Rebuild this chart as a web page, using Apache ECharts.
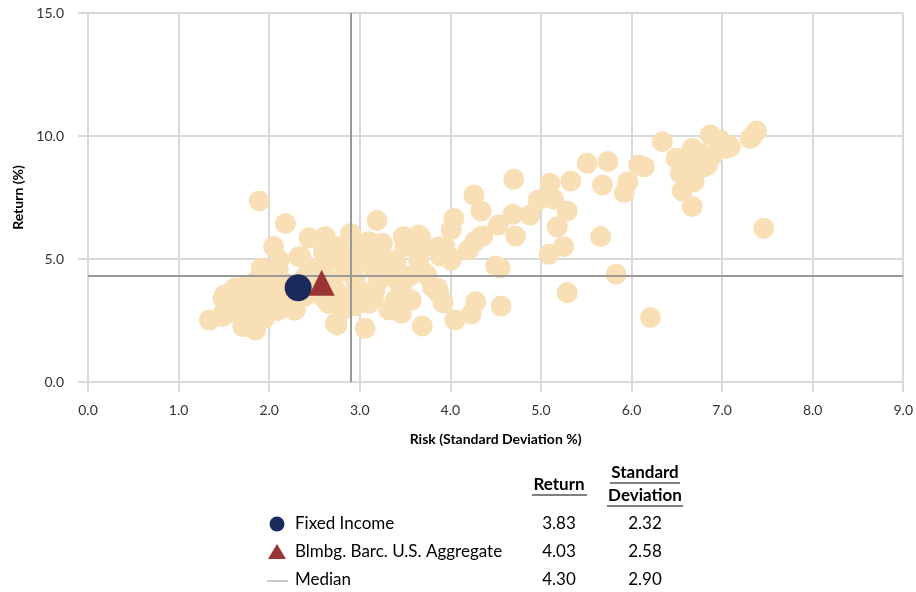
<!DOCTYPE html>
<html><head><meta charset="utf-8">
<script src="https://cdn.jsdelivr.net/npm/echarts@6/dist/echarts.min.js"></script>
<style>html,body{margin:0;padding:0;background:#fff}#c{width:916px;height:592px}</style>
</head><body><div id="c"></div>
<script>
// Peer universe: [risk (std dev %), return %]
const peers = [
 [1.89,7.36],[2.18,6.44],[2.05,5.51],[3.19,6.57],
 [4.70,8.24],[4.26,7.60],[4.34,6.95],[4.04,6.65],[4.01,6.20],[3.50,5.86],[3.67,5.90],[4.53,6.38],[4.69,6.82],[4.88,6.79],[4.97,7.40],[5.10,8.08],[5.14,7.43],[5.33,8.17],[5.51,8.89],[5.74,8.96],[5.68,8.01],[5.92,7.70],[5.96,8.14],[6.14,8.75],[6.08,8.82],[5.29,6.95],[5.18,6.31],[4.72,5.93],[5.66,5.91],[5.25,5.50],[5.09,5.19],[4.50,4.72],[4.55,4.63],[5.83,4.38],[5.29,3.63],[4.56,3.09],[4.28,3.26],[4.23,2.76],[4.05,2.52],[3.69,2.28],[3.92,3.22],[3.86,3.81],[3.74,4.35],[3.65,4.96],[3.89,5.12],[4.00,5.07],[3.94,5.50],[4.20,5.37],[4.36,5.93],[4.27,5.70],[3.57,3.33],[3.46,2.79],[3.46,3.87],[6.21,2.62],
 [6.34,9.77],[7.38,10.20],[7.31,9.90],[6.51,9.09],[6.67,9.43],[6.87,10.04],[6.98,9.70],[7.09,9.57],[6.62,8.69],[6.84,8.82],[6.54,8.48],[6.69,8.14],[6.56,7.77],[6.67,7.13],[7.46,6.25],[6.67,9.49],[6.49,9.09],[7.05,9.49],[6.98,9.84],[7.33,9.97],[6.73,9.16],[6.80,8.75],[6.60,9.00],[6.75,9.30],[6.90,9.20],[6.65,8.90],
 [2.44,5.86],[2.62,5.91],[2.33,5.09],[2.90,6.04],[3.10,5.70],[3.25,5.64],[3.48,5.91],[3.50,5.50],[3.87,5.50],[3.72,4.42],[3.34,4.96],[3.36,4.55],[3.43,4.01],[3.50,3.47],[3.32,2.93],[3.15,3.40],[3.06,2.18],[2.75,2.32],[2.81,2.93],[3.21,4.15],[2.99,3.74],[3.87,3.61],[3.65,5.98],[3.72,5.50],[4.34,5.91],[4.01,4.96],[3.80,3.87],[2.73,2.38],[2.70,4.96],[3.06,4.96],[3.25,5.09],[2.77,5.50],[3.06,5.50],[2.59,4.42],[3.25,4.28],[2.95,4.15],[2.55,3.74],[2.73,3.74],[2.88,3.47],[3.17,3.74],[3.39,3.33],[2.18,3.33],[2.27,2.93],[2.11,4.96],[1.91,4.62],[2.35,5.09],[2.80,5.20],[2.95,4.80],[3.15,4.60],[2.60,5.30],[2.50,4.60],[2.85,4.50],[3.00,5.30],[2.45,4.10],[2.40,3.50],[2.65,3.20],[2.95,3.10],[3.10,3.20],[2.70,4.10],[3.40,4.80],[3.55,4.30],
 [1.34,2.52],[1.51,3.54],[1.62,3.81],[1.49,2.79],[1.71,2.25],[1.84,2.25],[1.89,2.79],[1.49,3.40],[1.60,3.74],[1.74,3.94],[1.85,4.08],[2.04,4.28],[1.49,2.66],[1.85,2.11],[2.29,2.93],[2.15,3.20],[2.00,3.20],[2.59,3.47],[1.74,3.74],[1.82,2.52],[1.55,3.10],[1.65,2.90],[1.75,3.20],[1.80,3.50],[1.95,3.60],[2.05,3.80],[2.10,2.90],[1.95,2.60],[1.70,2.60],[2.20,4.00],[2.25,3.60],[2.00,4.50],[2.40,4.30],[1.60,3.30],[1.90,3.00],[2.10,4.60]
];
// Highlighted series and table
const tableNames = ["Fixed Income", "Blmbg. Barc. U.S. Aggregate", "Median"];
const tableReturn = [3.83, 4.03, 4.30];
const tableStdDev = [2.32, 2.58, 2.90];
const xTicks = [0,1,2,3,4,5,6,7,8,9];
const yTicks = [0,5,10,15];

const FONT = 'Lato';
const chart = echarts.init(document.getElementById('c'));
const rowY = [524, 552, 580];
const graphics = [
  {type:'text', style:{text:'Return', x:559, y:485, align:'center', verticalAlign:'middle', font:'bold 17px '+FONT, fill:'#000'}},
  {type:'line', shape:{x1:532, y1:495, x2:587, y2:495}, style:{stroke:'#000', lineWidth:1.2}},
  {type:'text', style:{text:'Standard', x:645, y:473, align:'center', verticalAlign:'middle', font:'bold 17px '+FONT, fill:'#000'}},
  {type:'line', shape:{x1:610, y1:483, x2:680, y2:483}, style:{stroke:'#000', lineWidth:1.2}},
  {type:'text', style:{text:'Deviation', x:645, y:496, align:'center', verticalAlign:'middle', font:'bold 17px '+FONT, fill:'#000'}},
  {type:'line', shape:{x1:607, y1:506, x2:683, y2:506}, style:{stroke:'#000', lineWidth:1.2}},
  {type:'circle', shape:{cx:277, cy:rowY[0], r:7.5}, style:{fill:'#1B2A5C'}},
  {type:'polygon', shape:{points:[[277,rowY[1]-8],[268,rowY[1]+7],[286,rowY[1]+7]]}, style:{fill:'#9B3535'}},
  {type:'line', shape:{x1:267, y1:rowY[2]+1, x2:288, y2:rowY[2]+1}, style:{stroke:'#999', lineWidth:1}}
];
tableNames.forEach((n,i)=>{
  graphics.push({type:'text', style:{text:n, x:295, y:rowY[i], verticalAlign:'middle', font:'17px '+FONT, fill:'#000'}});
  graphics.push({type:'text', style:{text:tableReturn[i].toFixed(2), x:559, y:rowY[i], align:'center', verticalAlign:'middle', font:'17px '+FONT, fill:'#000'}});
  graphics.push({type:'text', style:{text:tableStdDev[i].toFixed(2), x:645, y:rowY[i], align:'center', verticalAlign:'middle', font:'17px '+FONT, fill:'#000'}});
});

chart.setOption({
  animation:false,
  backgroundColor:'#fff',
  grid:{left:88, right:9, top:13, bottom:210, containLabel:false},
  xAxis:{type:'value', min:xTicks[0], max:xTicks[xTicks.length-1], interval:1,
    name:'Risk (Standard Deviation %)', nameLocation:'middle', nameGap:50,
    nameTextStyle:{fontFamily:FONT, fontWeight:'bold', fontSize:14, color:'#000'},
    axisLine:{show:true, lineStyle:{color:'#d9d9d9', width:2}},
    axisTick:{show:true, length:10, lineStyle:{color:'#d9d9d9', width:2}},
    axisLabel:{fontFamily:FONT, fontSize:14, color:'#333', margin:21, formatter:v=>v.toFixed(1)},
    splitLine:{show:true, lineStyle:{color:'#d9d9d9', width:2}}},
  yAxis:{type:'value', min:yTicks[0], max:yTicks[yTicks.length-1], interval:5,
    name:'Return (%)', nameLocation:'middle', nameGap:63, nameRotate:90,
    nameTextStyle:{fontFamily:FONT, fontWeight:'bold', fontSize:14, color:'#000'},
    axisLine:{show:true, lineStyle:{color:'#d9d9d9', width:2}},
    axisTick:{show:true, length:10, lineStyle:{color:'#d9d9d9', width:2}},
    axisLabel:{fontFamily:FONT, fontSize:14, color:'#333', margin:24, formatter:v=>v.toFixed(1)},
    splitLine:{show:true, lineStyle:{color:'#d9d9d9', width:2}}},
  series:[
    {type:'scatter', name:'Peers', data:peers, symbol:'circle', symbolSize:21,
      itemStyle:{color:'#F8DFB6', opacity:1}, z:2,
      markLine:{silent:true, symbol:['none','none'], label:{show:false}, animation:false,
        lineStyle:{color:'#999', width:2, type:'solid'},
        data:[{xAxis:tableStdDev[2]},{yAxis:tableReturn[2]}]}},
    {type:'scatter', name:'Fixed Income', data:[[tableStdDev[0], tableReturn[0]]], symbol:'circle', symbolSize:27,
      itemStyle:{color:'#1B2A5C', opacity:1}, z:5},
    {type:'scatter', name:'Blmbg. Barc. U.S. Aggregate', data:[[tableStdDev[1], tableReturn[1]]], symbol:'triangle', symbolSize:[26,26],
      itemStyle:{color:'#9B3535', opacity:1}, z:5}
  ],
  graphic:graphics
});
</script></body></html>
